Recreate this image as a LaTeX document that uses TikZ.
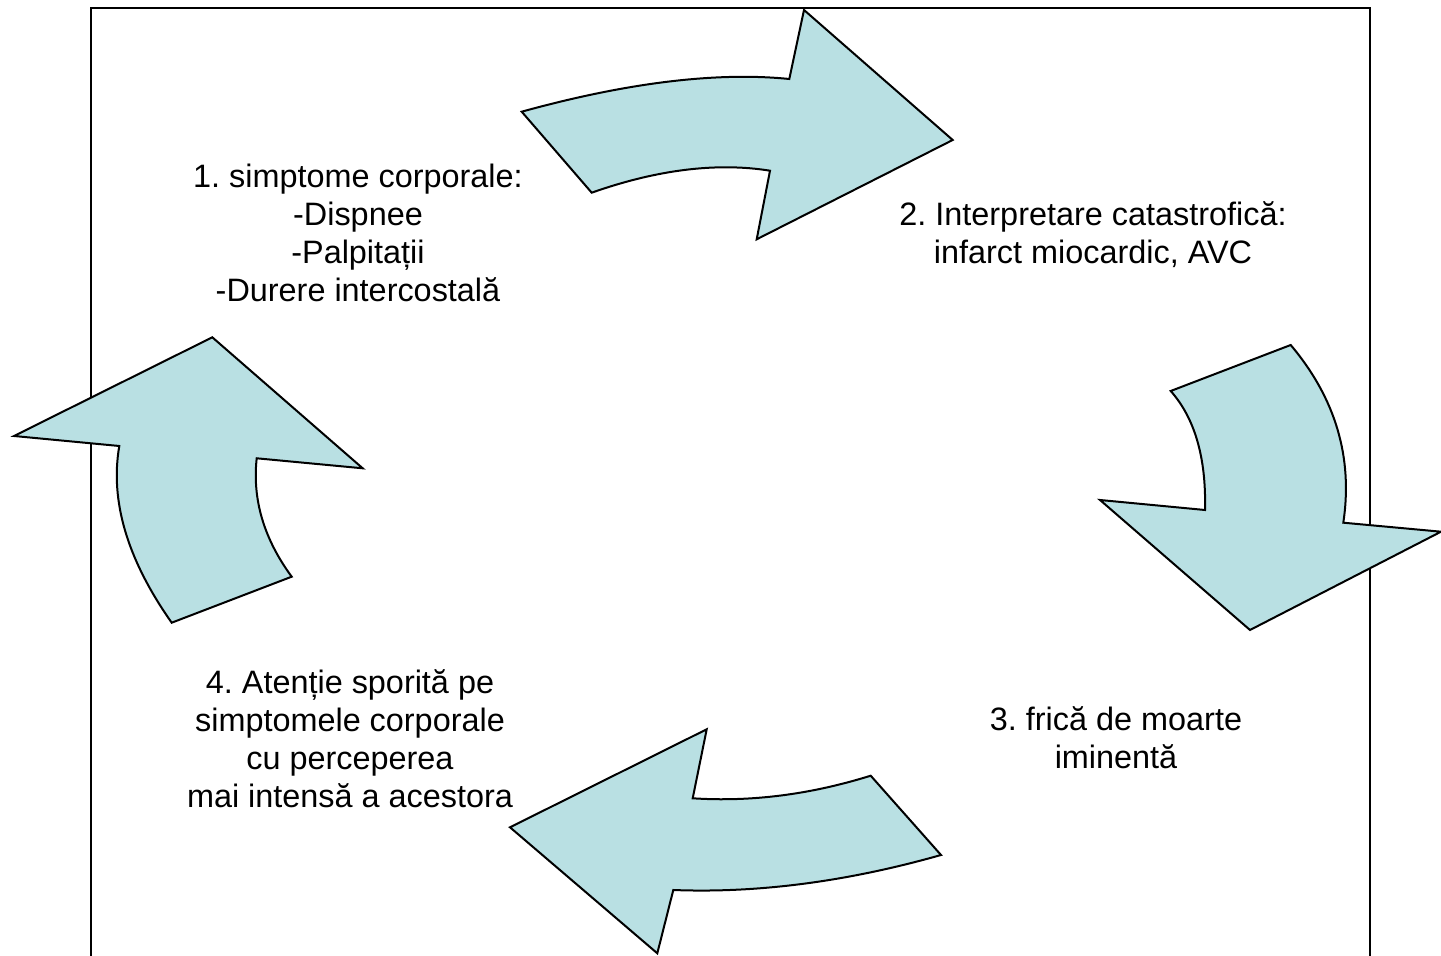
\documentclass[tikz,border=0pt]{standalone}
\usepackage{fontspec}
\setmainfont{Liberation Sans}
\frenchspacing
\definecolor{arrowfill}{RGB}{185,224,227}
\begin{document}
\begin{tikzpicture}[x=0.5pt,y=-0.5pt,
  bigarrow/.style={draw=black,line width=1pt,fill=arrowfill,line join=miter},
  label/.style={align=center,font=\fontsize{16.2pt}{19pt}\selectfont,inner sep=0pt}]
\useasboundingbox (0,0) rectangle (1441,956);
% frame
\coordinate (fbl) at (91,958);
\coordinate (ftl) at (91,8);
\coordinate (ftr) at (1370,8);
\coordinate (fbr) at (1370,958);
\draw[line width=1pt] (fbl) -- (ftl) -- (ftr) -- (fbr);
% arrow 1 (top, to the right)
\draw[bigarrow] (521.7,111.7) -- (591.7,192.7)
  .. controls (657.2,169.6) and (716.7,162.2) .. (770,170.7)
  -- (756.7,239.3) -- (952.7,140) -- (804,10) -- (789.3,79)
  .. controls (716.4,71.7) and (627.2,82.6) .. cycle;
% arrow 2 (right, downwards)
\draw[bigarrow] (1170.7,391) -- (1290.7,345)
  .. controls (1335.6,398.3) and (1353.1,457.6) .. (1343.3,522.7)
  -- (1441,531.7) -- (1250,630) -- (1100,500) -- (1205,510)
  .. controls (1206.3,458) and (1194.9,418.3) .. cycle;
% arrow 3 (bottom, to the left)
\draw[bigarrow] (870.7,775.7) -- (941,855)
  .. controls (847,881.7) and (757.8,893.3) .. (673.3,890)
  -- (657.3,953.3) -- (510,827.3) -- (706.7,729.3) -- (692.7,798.3)
  .. controls (750.9,802.1) and (810.2,794.6) .. cycle;
% arrow 4 (left, upwards)
\draw[bigarrow] (171.7,622.7) -- (291.7,576.7)
  .. controls (263.9,538.9) and (252.2,499.4) .. (256.7,458.3)
  -- (362.7,468.3) -- (212.3,337.3) -- (14,436) -- (119.3,446)
  .. controls (109.8,500.7) and (127.2,559.6) .. cycle;
% texts
\node[label] (t1) at (358,233) {1. simptome corporale:\\-Dispnee\\-Palpitații\\-Durere intercostală};
\node[label] (t2) at (1093,235) {2. Interpretare catastrofică:\\infarct miocardic, AVC};
\node[label] (t3) at (1116,738) {3. frică de moarte\\iminentă};
\node[label] (t4) at (350,739) {4. Atenție sporită pe\\simptomele corporale\\cu perceperea\hspace*{0.28em}\\mai intensă a acestora};
\end{tikzpicture}
\end{document}
